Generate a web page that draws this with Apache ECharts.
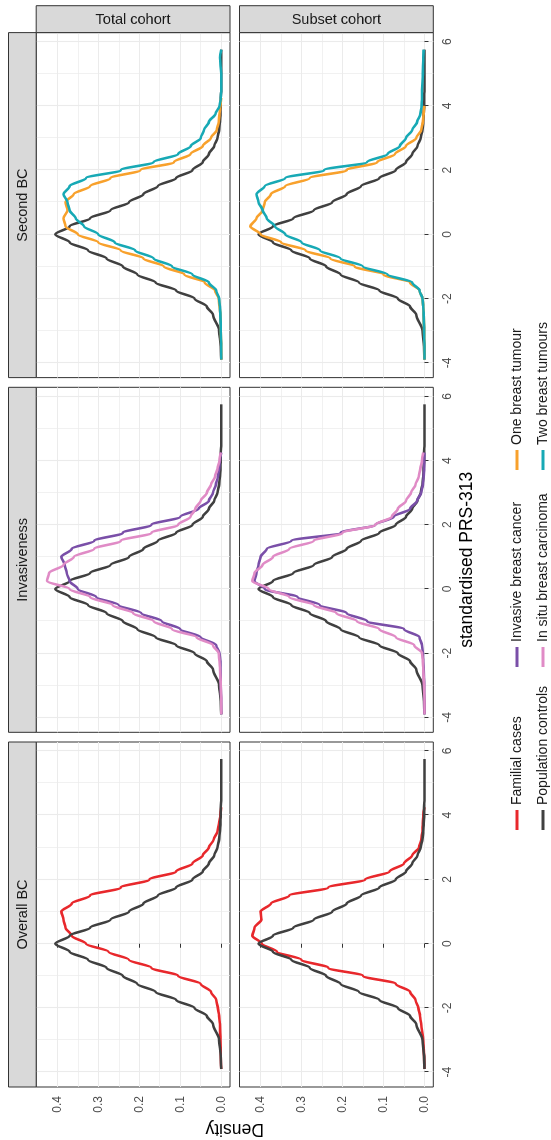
<!DOCTYPE html>
<html>
<head>
<meta charset="utf-8">
<script src="https://cdn.jsdelivr.net/npm/echarts@6/dist/echarts.min.js"></script>
<style>
  html, body { margin: 0; padding: 0; width: 551px; height: 1140px; overflow: hidden; background: #ffffff; }
  /* the figure is laid out landscape and turned a quarter turn anticlockwise */
  #chart {
    position: absolute; left: 0; top: 0;
    width: 1140px; height: 551px;
    transform-origin: 0 0;
    transform: translate(0, 1140px) rotate(-90deg);
  }
</style>
</head>
<body>
<div id="chart"></div>
<script>
// evaluation points of the standardised PRS-313
const prs = [-3.9, -3.5, -3, -2.5, -2.25, -2, -1.75, -1.5, -1.25, -1, -0.75, -0.5, -0.25, 0, 0.25, 0.5, 0.75, 1, 1.25, 1.5, 1.75, 2, 2.25, 2.5, 2.75, 3, 3.25, 3.5, 3.75, 4, 4.25, 4.5, 5, 5.5, 5.75];

// density estimates (null = beyond the observed range)
const populationControls = [0, 0.001, 0.005, 0.02, 0.035, 0.065, 0.11, 0.16, 0.205, 0.24, 0.28, 0.325, 0.37, 0.405, 0.37, 0.32, 0.27, 0.225, 0.19, 0.155, 0.11, 0.07, 0.045, 0.03, 0.017, 0.009, 0.005, 0.003, 0.002, 0.001, 0.001, 0, 0, 0, 0];

const familialTotal  = [0, 0.001, 0.002, 0.003, 0.005, 0.008, 0.012, 0.025, 0.05, 0.105, 0.17, 0.225, 0.275, 0.33, 0.365, 0.38, 0.385, 0.39, 0.365, 0.32, 0.245, 0.175, 0.11, 0.07, 0.045, 0.03, 0.018, 0.009, 0.005, 0.002, 0, null, null, null, null];
const familialSubset = [0, 0.001, 0.003, 0.008, 0.011, 0.015, 0.022, 0.035, 0.07, 0.15, 0.235, 0.3, 0.36, 0.397, 0.42, 0.415, 0.398, 0.4, 0.375, 0.33, 0.235, 0.145, 0.085, 0.05, 0.03, 0.013, 0.008, 0.005, 0.004, 0.003, 0, null, null, null, null];

const invasiveTotal  = [0, 0, 0.001, 0.002, 0.002, 0.004, 0.012, 0.05, 0.1, 0.145, 0.195, 0.25, 0.305, 0.35, 0.37, 0.377, 0.382, 0.39, 0.365, 0.31, 0.24, 0.17, 0.1, 0.055, 0.03, 0.02, 0.013, 0.008, 0.005, 0.003, 0, null, null, null, null];
const invasiveSubset = [0, 0, 0.001, 0.002, 0.003, 0.004, 0.006, 0.012, 0.05, 0.14, 0.19, 0.255, 0.31, 0.39, 0.415, 0.41, 0.405, 0.4, 0.385, 0.325, 0.205, 0.12, 0.075, 0.035, 0.018, 0.008, 0.004, 0.002, 0.001, 0.001, 0, null, null, null, null];

const inSituTotal  = [0, 0, 0.001, 0.003, 0.004, 0.006, 0.02, 0.06, 0.12, 0.165, 0.215, 0.265, 0.32, 0.37, 0.425, 0.42, 0.385, 0.36, 0.31, 0.245, 0.17, 0.105, 0.075, 0.063, 0.05, 0.035, 0.025, 0.015, 0.009, 0.004, 0.001, null, null, null, null];
const inSituSubset = [0, 0, 0.001, 0.003, 0.004, 0.006, 0.025, 0.07, 0.11, 0.165, 0.215, 0.27, 0.33, 0.38, 0.42, 0.415, 0.395, 0.37, 0.33, 0.27, 0.2, 0.12, 0.08, 0.065, 0.045, 0.033, 0.022, 0.014, 0.01, 0.006, 0.003, null, null, null, null];

const oneTumourTotal  = [0, 0, 0.001, 0.002, 0.004, 0.006, 0.015, 0.04, 0.09, 0.14, 0.19, 0.245, 0.3, 0.35, 0.38, 0.385, 0.375, 0.38, 0.36, 0.32, 0.27, 0.197, 0.115, 0.075, 0.045, 0.025, 0.011, 0.006, 0.004, 0.002, 0, null, null, null, null];
const oneTumourSubset = [0, 0, 0.001, 0.002, 0.003, 0.005, 0.012, 0.035, 0.1, 0.17, 0.23, 0.29, 0.35, 0.4, 0.425, 0.41, 0.395, 0.39, 0.375, 0.34, 0.28, 0.19, 0.115, 0.072, 0.045, 0.02, 0.008, 0.004, 0.002, 0.001, null, null, null, null, null];

const twoTumoursTotal  = [0, 0, 0.001, 0.002, 0.003, 0.005, 0.012, 0.03, 0.07, 0.12, 0.165, 0.21, 0.26, 0.3, 0.335, 0.355, 0.37, 0.375, 0.385, 0.37, 0.33, 0.245, 0.165, 0.105, 0.074, 0.05, 0.042, 0.03, 0.014, 0.004, 0.001, 0, 0, 0.003, 0];
const twoTumoursSubset = [0, 0, 0.001, 0.002, 0.003, 0.005, 0.012, 0.03, 0.09, 0.15, 0.205, 0.255, 0.3, 0.34, 0.365, 0.385, 0.395, 0.405, 0.41, 0.39, 0.34, 0.245, 0.14, 0.09, 0.06, 0.045, 0.03, 0.018, 0.01, 0.007, 0.006, 0.006, 0.004, 0.003, 0.002];

// facets and legend
const facetColumns = ['Overall BC', 'Invasiveness', 'Second BC'];
const facetRows = ['Total cohort', 'Subset cohort'];
const groupNames = ['Familial cases', 'Population controls', 'Invasive breast cancer', 'In situ breast carcinoma', 'One breast tumour', 'Two breast tumours'];
const groupColors = ['#e8282c', '#404040', '#7a4fa8', '#e08bc6', '#f8a12c', '#17a9b5'];

// axis breaks
const prsTicks = [-4, -2, 0, 2, 4, 6];
const prsMinor = [-3, -1, 1, 3, 5];
const densityTicks = [0, 0.1, 0.2, 0.3, 0.4];
const densityMinor = [0.05, 0.15, 0.25, 0.35];

// curves shown in each facet: [row][column] -> list of [group index, values]
const facetCurves = [
  [
    [[0, familialTotal], [1, populationControls]],
    [[1, populationControls], [2, invasiveTotal], [3, inSituTotal]],
    [[1, populationControls], [4, oneTumourTotal], [5, twoTumoursTotal]]
  ],
  [
    [[0, familialSubset], [1, populationControls]],
    [[1, populationControls], [2, invasiveSubset], [3, inSituSubset]],
    [[1, populationControls], [4, oneTumourSubset], [5, twoTumoursSubset]]
  ]
];

// layout (landscape coordinates)
const FONT = '"Liberation Sans", Arial, Helvetica, sans-serif';
const PANEL_W = 345, PANEL_H = 193.8;
const colLeft = [53, 407.7, 762.4];
const rowTop = [36.2, 239.5];
const X_MIN = -4.46, X_MAX = 6.28;
const Y_MIN = -0.0215, Y_MAX = 0.4515;
const STRIP_FILL = '#d9d9d9', FRAME = '#333333', GRID_LINE = '#ebebeb';

function toPoints(vals) {
  const pts = [];
  vals.forEach((v, i) => { if (v !== null) pts.push([prs[i], v]); });
  return pts;
}

const grid = [], xAxis = [], yAxis = [], series = [], graphic = [];

for (let r = 0; r < 2; r++) {
  for (let c = 0; c < 3; c++) {
    const g = grid.length;
    grid.push({
      left: colLeft[c], top: rowTop[r], width: PANEL_W, height: PANEL_H,
      show: true, backgroundColor: '#ffffff', borderColor: FRAME, borderWidth: 1
    });
    const bottomRow = r === 1, leftCol = c === 0;
    // major PRS axis
    xAxis.push({
      type: 'value', gridIndex: g, min: X_MIN, max: X_MAX, position: 'bottom',
      axisLine: { show: false },
      axisTick: { show: bottomRow, customValues: prsTicks, length: 4, lineStyle: { color: FRAME, width: 1 } },
      axisLabel: { show: bottomRow, customValues: prsTicks, margin: 8, color: '#4d4d4d', fontSize: 12, fontFamily: FONT },
      splitLine: { show: true, lineStyle: { color: GRID_LINE, width: 1.1 } }
    });
    // minor PRS grid lines
    xAxis.push({
      type: 'value', gridIndex: g, min: X_MIN, max: X_MAX, position: 'bottom',
      axisLine: { show: false },
      axisTick: { show: false, customValues: prsMinor },
      axisLabel: { show: false, customValues: prsMinor },
      splitLine: { show: true, lineStyle: { color: GRID_LINE, width: 0.7 } }
    });
    // major density axis
    yAxis.push({
      type: 'value', gridIndex: g, min: Y_MIN, max: Y_MAX, position: 'left',
      axisLine: { show: false },
      axisTick: { show: leftCol, customValues: densityTicks, length: 4, lineStyle: { color: FRAME, width: 1 } },
      axisLabel: { show: leftCol, customValues: densityTicks, margin: 9, color: '#4d4d4d', fontSize: 12, fontFamily: FONT,
                   formatter: v => Number(v).toFixed(1) },
      splitLine: { show: true, lineStyle: { color: GRID_LINE, width: 1.1 } }
    });
    // minor density grid lines
    yAxis.push({
      type: 'value', gridIndex: g, min: Y_MIN, max: Y_MAX, position: 'left',
      axisLine: { show: false },
      axisTick: { show: false, customValues: densityMinor },
      axisLabel: { show: false, customValues: densityMinor },
      splitLine: { show: true, lineStyle: { color: GRID_LINE, width: 0.7 } }
    });

    facetCurves[r][c].forEach(([gi, vals]) => {
      series.push({
        type: 'line', name: groupNames[gi],
        xAxisIndex: 2 * g, yAxisIndex: 2 * g,
        data: toPoints(vals),
        showSymbol: false, smooth: 0.3, smoothMonotone: 'x',
        lineStyle: { color: groupColors[gi], width: 2.6 },
        itemStyle: { color: groupColors[gi] },
        silent: true, animation: false
      });
    });
  }
}

// column strips (top)
facetColumns.forEach((name, c) => {
  graphic.push({ type: 'rect', shape: { x: colLeft[c], y: 8.5, width: PANEL_W, height: rowTop[0] - 8.5 },
    style: { fill: STRIP_FILL, stroke: FRAME, lineWidth: 1 }, z: 10 });
  graphic.push({ type: 'text', x: colLeft[c] + PANEL_W / 2, y: (8.5 + rowTop[0]) / 2 + 0.5,
    style: { text: name, fill: '#1a1a1a', font: '14.5px ' + FONT, textAlign: 'center', textVerticalAlign: 'middle' }, z: 11 });
});
// row strips (right)
const stripRight = colLeft[2] + PANEL_W;
facetRows.forEach((name, r) => {
  graphic.push({ type: 'rect', shape: { x: stripRight, y: rowTop[r], width: 1134.3 - stripRight, height: PANEL_H },
    style: { fill: STRIP_FILL, stroke: FRAME, lineWidth: 1 }, z: 10 });
  graphic.push({ type: 'text', x: (stripRight + 1134.3) / 2 - 0.5, y: rowTop[r] + PANEL_H / 2, rotation: -Math.PI / 2,
    style: { text: name, fill: '#1a1a1a', font: '14.5px ' + FONT, textAlign: 'center', textVerticalAlign: 'middle' }, z: 11 });
});
// axis titles
graphic.push({ type: 'text', x: (colLeft[0] + stripRight) / 2, y: 467,
  style: { text: 'standardised PRS-313', fill: '#000000', font: '17.5px ' + FONT, textAlign: 'center', textVerticalAlign: 'middle' } });
graphic.push({ type: 'text', x: 11.5, y: (rowTop[0] + rowTop[1] + PANEL_H) / 2, rotation: Math.PI / 2,
  style: { text: 'Density', fill: '#000000', font: '17.5px ' + FONT, textAlign: 'center', textVerticalAlign: 'middle' } });

// legend: three columns of two keys
const legendColumns = [[0, 1], [2, 3], [4, 5]];
const legendLeft = [310, 473, 670];
const legend = legendColumns.map((idx, i) => ({
  orient: 'vertical', left: legendLeft[i], top: 509, padding: 0,
  itemWidth: 20, itemHeight: 3, itemGap: 10, icon: 'rect', selectedMode: false,
  data: idx.map(k => groupNames[k]),
  textStyle: { fontSize: 14, lineHeight: 16, color: '#1a1a1a', fontFamily: FONT }
}));

const chart = echarts.init(document.getElementById('chart'), null, { renderer: 'canvas' });
chart.setOption({
  animation: false,
  backgroundColor: '#ffffff',
  grid, xAxis, yAxis, series, legend, graphic
});
</script>
</body>
</html>
